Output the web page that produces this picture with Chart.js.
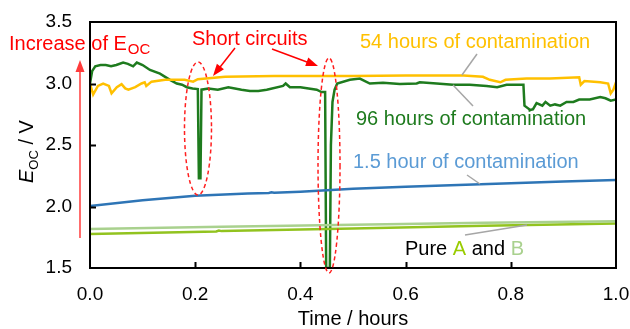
<!DOCTYPE html>
<html>
<head>
<meta charset="utf-8">
<script src="https://cdn.jsdelivr.net/npm/chart.js@4.4.1/dist/chart.umd.min.js"></script>
<style>
  html, body { margin: 0; padding: 0; background: #fff; }
  #wrap { width: 630px; height: 329px; position: relative; }
</style>
</head>
<body>
<div id="wrap"><canvas id="eocChart"></canvas></div>
<script>
// ---- data (time in hours, E_OC in V) ----
const xTicks = [0.0, 0.2, 0.4, 0.6, 0.8, 1.0];
const yTicks = [1.5, 2.0, 2.5, 3.0, 3.5];

const pureB = [[0, 1.818], [0.25, 1.835], [0.5, 1.852], [0.75, 1.867], [1.0, 1.880]];
const pureA = [[0, 1.776], [0.24, 1.797], [0.245, 1.805], [0.25, 1.800], [0.5, 1.822], [0.75, 1.843], [1.0, 1.862]];
const h1_5 = [[0, 2.005], [0.1, 2.05], [0.2, 2.088], [0.3, 2.105], [0.34, 2.11], [0.345, 2.115], [0.35, 2.112],
  [0.4, 2.12], [0.5, 2.145], [0.6, 2.16], [0.7, 2.175], [0.8, 2.19], [0.9, 2.203], [1.0, 2.215]];
const h54 = [[0, 3.00], [0.006, 2.91], [0.015, 2.98], [0.025, 3.00], [0.036, 2.98], [0.041, 2.92], [0.051, 2.97],
  [0.06, 2.995], [0.067, 2.96], [0.073, 2.95], [0.086, 2.97], [0.098, 3.00], [0.104, 3.01], [0.107, 2.98],
  [0.117, 3.015], [0.143, 3.03], [0.18, 3.03], [0.196, 3.015], [0.205, 3.035], [0.257, 3.055], [0.35, 3.06],
  [0.5, 3.06], [0.6, 3.065], [0.71, 3.065], [0.747, 3.055], [0.76, 3.03], [0.78, 3.01], [0.79, 3.03],
  [0.83, 3.04], [0.874, 3.04], [0.93, 3.05], [0.933, 2.99], [0.94, 3.02], [0.97, 3.01], [0.985, 3.00],
  [0.99, 2.92], [0.995, 2.95], [1.0, 3.01]];
const h96 = [[0, 3.00], [0.004, 3.10], [0.01, 3.14], [0.02, 3.15], [0.03, 3.15], [0.04, 3.14], [0.05, 3.15],
  [0.063, 3.17], [0.072, 3.16], [0.082, 3.14], [0.089, 3.17], [0.1, 3.15], [0.114, 3.11], [0.133, 3.08],
  [0.152, 3.03], [0.165, 3.00], [0.175, 2.99], [0.184, 2.97], [0.195, 2.96], [0.205, 2.955], [0.207, 2.23],
  [0.210, 2.23], [0.212, 2.95], [0.225, 2.96], [0.243, 2.95], [0.263, 2.97], [0.288, 2.95], [0.304, 2.94],
  [0.32, 2.94], [0.336, 2.95], [0.367, 2.98], [0.372, 3.00], [0.38, 2.97], [0.40, 2.97], [0.431, 2.95],
  [0.44, 2.93], [0.447, 2.93], [0.449, 1.50], [0.456, 1.50], [0.458, 2.50], [0.461, 2.85], [0.465, 2.95],
  [0.47, 3.00], [0.494, 3.03], [0.513, 3.04], [0.532, 3.00], [0.557, 3.007], [0.589, 2.995], [0.621, 3.00],
  [0.627, 3.01], [0.659, 3.00], [0.69, 2.99], [0.722, 2.99], [0.754, 2.98], [0.774, 2.97], [0.792, 2.99],
  [0.824, 2.99], [0.826, 2.82], [0.837, 2.785], [0.842, 2.79], [0.849, 2.84], [0.86, 2.82], [0.866, 2.85],
  [0.875, 2.82], [0.884, 2.83], [0.894, 2.82], [0.906, 2.85], [0.919, 2.85], [0.93, 2.87], [0.95, 2.87],
  [0.97, 2.89], [0.98, 2.88], [0.99, 2.86], [1.0, 2.87]];

const FONT = '"Liberation Sans", Arial, sans-serif';

function toXY(arr) {
  return arr.map(p => ({ x: p[0], y: p[1] }));
}

function arrow(ctx, x1, y1, x2, y2, color, headLen, headW) {
  const a = Math.atan2(y2 - y1, x2 - x1);
  ctx.save();
  ctx.strokeStyle = color;
  ctx.fillStyle = color;
  ctx.lineWidth = 1.5;
  ctx.beginPath();
  ctx.moveTo(x1, y1);
  ctx.lineTo(x2 - Math.cos(a) * headLen * 0.8, y2 - Math.sin(a) * headLen * 0.8);
  ctx.stroke();
  ctx.translate(x2, y2);
  ctx.rotate(a);
  ctx.beginPath();
  ctx.moveTo(0, 0);
  ctx.lineTo(-headLen, -headW / 2);
  ctx.lineTo(-headLen, headW / 2);
  ctx.closePath();
  ctx.fill();
  ctx.restore();
}

function leader(ctx, x1, y1, x2, y2) {
  ctx.save();
  ctx.strokeStyle = '#a6a6a6';
  ctx.lineWidth = 1.5;
  ctx.beginPath();
  ctx.moveTo(x1, y1);
  ctx.lineTo(x2, y2);
  ctx.stroke();
  ctx.restore();
}

function ellipse(ctx, cx, cy, rx, ry) {
  ctx.save();
  ctx.strokeStyle = '#ff2020';
  ctx.lineWidth = 1.5;
  ctx.setLineDash([4, 3]);
  ctx.beginPath();
  ctx.ellipse(cx, cy, rx, ry, 0, 0, Math.PI * 2);
  ctx.stroke();
  ctx.restore();
}

// frame, inward ticks, annotations
const annotPlugin = {
  id: 'annot',
  afterDraw(chart) {
    const ctx = chart.ctx;
    const a = chart.chartArea;
    const xs = chart.scales.x, ys = chart.scales.y;

    // box
    ctx.save();
    ctx.strokeStyle = '#000';
    ctx.lineWidth = 2;
    ctx.strokeRect(a.left, a.top, a.right - a.left, a.bottom - a.top);
    ctx.beginPath();
    xTicks.slice(1, -1).forEach(v => {
      const px = Math.round(xs.getPixelForValue(v)) + 0.5;
      ctx.moveTo(px, a.bottom);
      ctx.lineTo(px, a.bottom - 6);
    });
    yTicks.slice(1, -1).forEach(v => {
      const py = Math.round(ys.getPixelForValue(v)) + 0.5;
      ctx.moveTo(a.left, py);
      ctx.lineTo(a.left + 6, py);
    });
    ctx.stroke();
    ctx.restore();

    // short circuit ellipses
    ellipse(ctx, xs.getPixelForValue(0.2053), ys.getPixelForValue(2.634), 13.5, 66.5);
    ellipse(ctx, xs.getPixelForValue(0.4544), ys.getPixelForValue(2.333), 11, 107.5);

    // leader lines
    leader(ctx, 477, 54, 462, 75);
    leader(ctx, 453, 85, 473, 106);
    leader(ctx, 467, 175, 480, 184);
    leader(ctx, 465, 235, 527, 225);

    // arrows
    arrow(ctx, 80, 238, 80, 60, '#ff3b3b', 12, 9);
    arrow(ctx, 235, 48, 213, 76, '#ff0000', 12, 9);
    arrow(ctx, 272, 49, 318, 66, '#ff0000', 12, 9);

    ctx.save();
    ctx.textBaseline = 'alphabetic';
    ctx.textAlign = 'left';

    // Increase of E_OC
    ctx.fillStyle = '#ff0000';
    ctx.font = '20px ' + FONT;
    let t = 'Increase of E';
    ctx.fillText(t, 9, 50);
    let w = ctx.measureText(t).width;
    ctx.font = '15px ' + FONT;
    ctx.fillText('OC', 9 + w + 1, 54);

    ctx.font = '20px ' + FONT;
    ctx.fillText('Short circuits', 192, 45);

    ctx.fillStyle = '#ffc000';
    ctx.fillText('54 hours of contamination', 360, 48);
    ctx.fillStyle = '#1e7b1e';
    ctx.fillText('96 hours of contamination', 356, 125);
    ctx.fillStyle = '#5b9bd5';
    ctx.fillText('1.5 hour of contamination', 353, 168);

    // Pure A and B
    let x = 405;
    [['Pure ', '#000'], ['A', '#99cc00'], [' and ', '#000'], ['B', '#a9d18e']].forEach(s => {
      ctx.fillStyle = s[1];
      ctx.fillText(s[0], x, 255);
      x += ctx.measureText(s[0]).width;
    });

    // y-axis title: E_OC / V (rotated)
    ctx.translate(33, 183);
    ctx.rotate(-Math.PI / 2);
    ctx.fillStyle = '#000';
    ctx.font = 'italic 20px ' + FONT;
    ctx.fillText('E', 0, 0);
    w = ctx.measureText('E').width;
    ctx.font = '13px ' + FONT;
    ctx.fillText('OC', w, 5);
    w += ctx.measureText('OC').width;
    ctx.font = '20px ' + FONT;
    ctx.fillText(' / V', w, 0);
    ctx.restore();
  }
};

const seriesStyle = (data, color, width) => ({
  data: toXY(data),
  borderColor: color,
  backgroundColor: color,
  borderWidth: width,
  pointRadius: 0,
  tension: 0,
  fill: false
});

new Chart(document.getElementById('eocChart').getContext('2d'), {
  type: 'line',
  data: {
    datasets: [
      Object.assign({ label: 'Pure B' }, seriesStyle(pureB, '#a9d18e', 2.5)),
      Object.assign({ label: 'Pure A' }, seriesStyle(pureA, '#92c31f', 2.5)),
      Object.assign({ label: '1.5 hour of contamination' }, seriesStyle(h1_5, '#2e75b6', 2.5)),
      Object.assign({ label: '54 hours of contamination' }, seriesStyle(h54, '#ffc000', 2.5)),
      Object.assign({ label: '96 hours of contamination' }, seriesStyle(h96, '#1e7b1e', 2.5))
    ]
  },
  options: {
    responsive: true,
    maintainAspectRatio: false,
    animation: false,
    layout: { padding: { top: 22, right: 14, left: 0, bottom: 0 } },
    plugins: {
      legend: { display: false },
      tooltip: { enabled: false }
    },
    scales: {
      x: {
        type: 'linear',
        min: 0,
        max: 1,
        afterBuildTicks: s => { s.ticks = xTicks.map(v => ({ value: v })); },
        afterFit: s => { s.height = 61; s.paddingLeft = 0; s.paddingRight = 0; },
        grid: { display: false, drawTicks: false },
        border: { display: false },
        ticks: {
          color: '#000',
          padding: 15,
          font: { size: 19, family: FONT },
          callback: v => Number(v).toFixed(1)
        },
        title: {
          display: true,
          text: 'Time / hours',
          color: '#000',
          font: { size: 20, family: FONT, lineHeight: 1 },
          padding: { top: 0, bottom: 0 }
        }
      },
      y: {
        min: 1.5,
        max: 3.5,
        afterBuildTicks: s => { s.ticks = yTicks.map(v => ({ value: v })); },
        afterFit: s => { s.width = 90; s.paddingTop = 0; s.paddingBottom = 0; },
        grid: { display: false, drawTicks: false },
        border: { display: false },
        ticks: {
          color: '#000',
          padding: 18,
          font: { size: 19, family: FONT },
          callback: v => Number(v).toFixed(1)
        }
      }
    }
  },
  plugins: [annotPlugin]
});
</script>
</body>
</html>
